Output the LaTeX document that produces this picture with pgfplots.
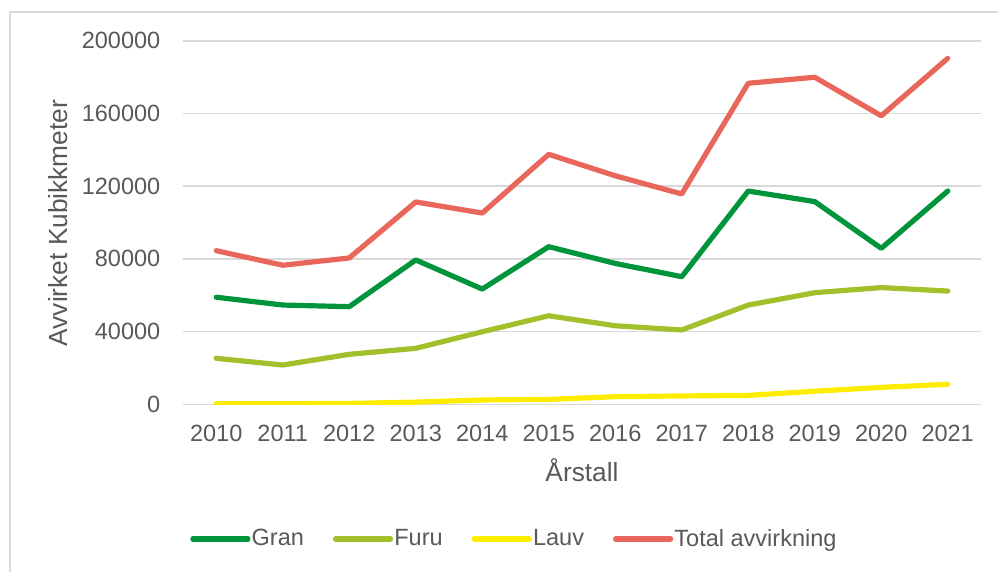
\documentclass[border=0pt]{standalone}
\usepackage{pgfplots}
\pgfplotsset{compat=1.18}
\usepackage{fontspec}
\setmainfont{Liberation Sans}
\definecolor{gran}{HTML}{00953B}
\definecolor{furu}{HTML}{A2C02B}
\definecolor{lauv}{HTML}{FFED00}
\definecolor{total}{HTML}{E9665A}
\definecolor{txt}{HTML}{595959}
\definecolor{gridc}{HTML}{D9D9D9}
\begin{document}
\begin{tikzpicture}
\path[use as bounding box] (0bp,0bp) rectangle (499bp,-286bp);
\draw[gridc, line width=0.8bp] (5bp,-290bp) -- (5bp,-6bp) -- (505bp,-6bp);
\begin{axis}[
  at={(91.5bp,-202.15bp)}, anchor=south west,
  scale only axis, width=399bp, height=181.8bp,
  xmin=2009.5, xmax=2021.5, ymin=0, ymax=200000,
  xtick={2010,...,2021}, ytick={0,40000,80000,120000,160000,200000},
  scaled ticks=false,
  /pgf/number format/fixed,
  /pgf/number format/1000 sep={},
  /pgf/number format/assume math mode=true,
  axis line style={draw=none},
  major tick length=0pt,
  ymajorgrids, grid style={color=gridc, line width=0.8bp},
  tick label style={font=\fontsize{11.8}{14}\selectfont, text=txt},
  yticklabel style={inner sep=0pt, xshift=-11.15bp},
  xticklabel style={inner sep=0pt, yshift=-10.35bp},
  label style={font=\fontsize{13.2}{15}\selectfont, text=txt},
  xlabel={Årstall},
  ylabel={Avvirket Kubikkmeter},
  xlabel style={at={(axis description cs:0.5,-0.1823)}, anchor=center},
  ylabel style={at={(axis description cs:-0.1566,0.4986)}, anchor=center},
  legend columns=4,
  legend style={draw=none, fill=none, at={(axis description cs:0.414,-0.3705)}, anchor=center,
    font=\fontsize{11.8}{14}\selectfont, text=txt,
    nodes={inner sep=0pt},
    /tikz/every odd column/.append style={column sep=0.6bp},
    /tikz/every even column/.append style={column sep=14.5bp}},
  legend image code/.code={\draw[#1] (0bp,0bp) -- (27.5bp,0bp);},
  every axis plot/.append style={line width=2.6bp, line cap=round, line join=round, mark=none},
]
\addplot[gran] coordinates {(2010,58900)(2011,54600)(2012,53700)(2013,79400)(2014,63400)(2015,86700)(2016,77500)(2017,70200)(2018,117300)(2019,111500)(2020,85800)(2021,117300)};
\addlegendentry{Gran}
\addplot[furu] coordinates {(2010,25300)(2011,21600)(2012,27500)(2013,30800)(2014,39900)(2015,48700)(2016,43200)(2017,40900)(2018,54600)(2019,61400)(2020,64200)(2021,62300)};
\addlegendentry{Furu}
\addplot[lauv] coordinates {(2010,300)(2011,300)(2012,500)(2013,1200)(2014,2400)(2015,2700)(2016,4200)(2017,4600)(2018,4900)(2019,7200)(2020,9300)(2021,11000)};
\addlegendentry{Lauv}
\addplot[total] coordinates {(2010,84500)(2011,76500)(2012,80500)(2013,111300)(2014,105200)(2015,137500)(2016,125700)(2017,115700)(2018,176600)(2019,179900)(2020,158700)(2021,190300)};
\addlegendentry{Total avvirkning}
\end{axis}
\end{tikzpicture}
\end{document}
